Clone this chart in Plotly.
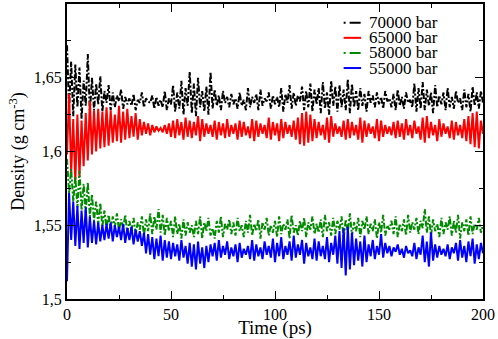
import plotly.graph_objects as go

# time axis, 1 ps sampling
time_ps = list(range(0, 201))

density_70000 = [
    1.672, 1.628, 1.661, 1.624, 1.659, 1.630, 1.657, 1.622, 1.648, 1.631,
    1.666, 1.626, 1.650, 1.628, 1.646, 1.632, 1.651, 1.627, 1.641, 1.633,
    1.645, 1.628, 1.640, 1.630, 1.638, 1.634, 1.642, 1.629, 1.637, 1.632,
    1.636, 1.631, 1.639, 1.628, 1.635, 1.633, 1.640, 1.630, 1.636, 1.634,
    1.633, 1.638, 1.629, 1.637, 1.631, 1.635, 1.630, 1.641, 1.628, 1.636,
    1.632, 1.645, 1.627, 1.640, 1.629, 1.648, 1.625, 1.643, 1.631, 1.654,
    1.626, 1.646, 1.624, 1.650, 1.630, 1.641, 1.627, 1.644, 1.625, 1.654,
    1.629, 1.642, 1.631, 1.638, 1.628, 1.641, 1.633, 1.637, 1.630, 1.639,
    1.632, 1.636, 1.629, 1.640, 1.631, 1.635, 1.628, 1.643, 1.630, 1.637,
    1.633, 1.639, 1.628, 1.642, 1.631, 1.636, 1.634, 1.640, 1.629, 1.638,
    1.632, 1.637, 1.630, 1.643, 1.627, 1.639, 1.633, 1.645, 1.629, 1.640,
    1.631, 1.638, 1.634, 1.644, 1.628, 1.641, 1.630, 1.646, 1.627, 1.642,
    1.632, 1.643, 1.626, 1.647, 1.629, 1.640, 1.625, 1.648, 1.631, 1.644,
    1.627, 1.645, 1.630, 1.642, 1.628, 1.649, 1.626, 1.646, 1.630, 1.641,
    1.628, 1.643, 1.631, 1.639, 1.627, 1.641, 1.633, 1.638, 1.630, 1.640,
    1.632, 1.637, 1.629, 1.641, 1.634, 1.636, 1.630, 1.639, 1.628, 1.642,
    1.631, 1.637, 1.629, 1.640, 1.633, 1.635, 1.630, 1.646, 1.627, 1.643,
    1.629, 1.647, 1.628, 1.642, 1.631, 1.640, 1.626, 1.645, 1.630, 1.638,
    1.632, 1.640, 1.628, 1.643, 1.630, 1.637, 1.629, 1.641, 1.633, 1.636,
    1.628, 1.642, 1.630, 1.639, 1.627, 1.644, 1.631, 1.640, 1.629, 1.641,
    1.633,
]

density_65000 = [
    1.598, 1.639, 1.585, 1.622, 1.579, 1.625, 1.583, 1.621, 1.590, 1.626,
    1.594, 1.634, 1.598, 1.628, 1.600, 1.629, 1.602, 1.627, 1.603, 1.630,
    1.604, 1.628, 1.606, 1.625, 1.607, 1.631, 1.606, 1.627, 1.608, 1.629,
    1.609, 1.624, 1.610, 1.626, 1.608, 1.622, 1.611, 1.620, 1.612, 1.619,
    1.611, 1.618, 1.613, 1.617, 1.614, 1.616, 1.613, 1.618, 1.612, 1.619,
    1.610, 1.621, 1.609, 1.622, 1.611, 1.620, 1.608, 1.623, 1.610, 1.621,
    1.609, 1.620, 1.611, 1.624, 1.607, 1.622, 1.610, 1.619, 1.612, 1.618,
    1.610, 1.621, 1.608, 1.620, 1.611, 1.619, 1.609, 1.622, 1.610, 1.618,
    1.612, 1.619, 1.608, 1.621, 1.610, 1.620, 1.611, 1.617, 1.609, 1.622,
    1.607, 1.621, 1.610, 1.619, 1.612, 1.618, 1.609, 1.623, 1.608, 1.620,
    1.611, 1.619, 1.607, 1.622, 1.609, 1.620, 1.612, 1.618, 1.610, 1.621,
    1.608, 1.623, 1.605, 1.626, 1.604, 1.627, 1.606, 1.625, 1.607, 1.622,
    1.609, 1.620, 1.611, 1.618, 1.608, 1.623, 1.606, 1.624, 1.610, 1.619,
    1.612, 1.617, 1.610, 1.621, 1.608, 1.622, 1.609, 1.620, 1.611, 1.618,
    1.608, 1.623, 1.606, 1.621, 1.610, 1.619, 1.612, 1.617, 1.609, 1.622,
    1.607, 1.621, 1.610, 1.618, 1.612, 1.617, 1.611, 1.620, 1.609, 1.621,
    1.610, 1.619, 1.608, 1.622, 1.611, 1.618, 1.609, 1.621, 1.612, 1.617,
    1.608, 1.623, 1.606, 1.624, 1.609, 1.620, 1.611, 1.618, 1.607, 1.622,
    1.610, 1.619, 1.612, 1.617, 1.609, 1.621, 1.608, 1.620, 1.611, 1.618,
    1.609, 1.622, 1.607, 1.624, 1.605, 1.626, 1.603, 1.627, 1.602, 1.621,
    1.612,
]

density_58000 = [
    1.595, 1.572, 1.588, 1.566, 1.583, 1.562, 1.587, 1.560, 1.578, 1.558,
    1.579, 1.556, 1.571, 1.553, 1.566, 1.551, 1.565, 1.549, 1.560, 1.548,
    1.557, 1.547, 1.556, 1.549, 1.558, 1.546, 1.554, 1.548, 1.557, 1.545,
    1.553, 1.546, 1.555, 1.544, 1.552, 1.547, 1.556, 1.543, 1.554, 1.546,
    1.558, 1.544, 1.556, 1.547, 1.561, 1.545, 1.557, 1.543, 1.555, 1.546,
    1.553, 1.542, 1.556, 1.544, 1.551, 1.541, 1.554, 1.543, 1.552, 1.545,
    1.550, 1.542, 1.553, 1.544, 1.556, 1.541, 1.552, 1.546, 1.555, 1.543,
    1.548, 1.541, 1.553, 1.545, 1.556, 1.542, 1.551, 1.547, 1.554, 1.544,
    1.552, 1.543, 1.555, 1.546, 1.550, 1.542, 1.553, 1.545, 1.557, 1.543,
    1.551, 1.546, 1.554, 1.541, 1.552, 1.547, 1.555, 1.543, 1.550, 1.545,
    1.553, 1.542, 1.556, 1.544, 1.551, 1.547, 1.554, 1.541, 1.557, 1.545,
    1.550, 1.543, 1.553, 1.546, 1.555, 1.542, 1.552, 1.547, 1.556, 1.544,
    1.551, 1.545, 1.554, 1.542, 1.557, 1.546, 1.552, 1.543, 1.555, 1.544,
    1.553, 1.547, 1.556, 1.541, 1.554, 1.545, 1.558, 1.543, 1.552, 1.546,
    1.555, 1.542, 1.553, 1.547, 1.556, 1.544, 1.551, 1.546, 1.554, 1.541,
    1.552, 1.545, 1.557, 1.543, 1.550, 1.547, 1.553, 1.544, 1.556, 1.542,
    1.551, 1.546, 1.554, 1.543, 1.557, 1.545, 1.552, 1.547, 1.555, 1.544,
    1.553, 1.548, 1.561, 1.545, 1.556, 1.543, 1.554, 1.546, 1.551, 1.542,
    1.555, 1.544, 1.552, 1.547, 1.556, 1.543, 1.553, 1.545, 1.557, 1.541,
    1.552, 1.546, 1.554, 1.543, 1.556, 1.544, 1.551, 1.547, 1.555, 1.545,
    1.550,
]

density_55000 = [
    1.512, 1.572, 1.540, 1.566, 1.536, 1.563, 1.534, 1.560, 1.538, 1.562,
    1.535, 1.556, 1.538, 1.553, 1.537, 1.552, 1.539, 1.550, 1.540, 1.551,
    1.541, 1.552, 1.539, 1.550, 1.542, 1.549, 1.540, 1.551, 1.538, 1.548,
    1.540, 1.549, 1.537, 1.547, 1.539, 1.546, 1.536, 1.545, 1.531, 1.544,
    1.530, 1.542, 1.527, 1.541, 1.529, 1.543, 1.526, 1.540, 1.528, 1.539,
    1.527, 1.538, 1.529, 1.537, 1.526, 1.540, 1.528, 1.536, 1.524, 1.538,
    1.522, 1.537, 1.520, 1.539, 1.524, 1.535, 1.521, 1.536, 1.525, 1.537,
    1.529, 1.538, 1.526, 1.540, 1.528, 1.536, 1.530, 1.539, 1.527, 1.535,
    1.529, 1.537, 1.525, 1.538, 1.528, 1.534, 1.530, 1.536, 1.527, 1.540,
    1.526, 1.537, 1.529, 1.535, 1.527, 1.539, 1.530, 1.536, 1.528, 1.541,
    1.525, 1.538, 1.529, 1.542, 1.527, 1.536, 1.530, 1.539, 1.526, 1.543,
    1.528, 1.537, 1.530, 1.540, 1.524, 1.538, 1.529, 1.535, 1.527, 1.541,
    1.526, 1.539, 1.529, 1.536, 1.527, 1.542, 1.525, 1.538, 1.530, 1.543,
    1.524, 1.546, 1.521, 1.548, 1.516, 1.549, 1.520, 1.545, 1.523, 1.541,
    1.526, 1.539, 1.522, 1.543, 1.525, 1.537, 1.529, 1.540, 1.527, 1.536,
    1.530, 1.544, 1.528, 1.538, 1.531, 1.536, 1.529, 1.535, 1.532, 1.537,
    1.530, 1.534, 1.528, 1.536, 1.531, 1.533, 1.529, 1.538, 1.527, 1.535,
    1.530, 1.543, 1.525, 1.539, 1.522, 1.545, 1.526, 1.537, 1.528, 1.536,
    1.530, 1.534, 1.529, 1.537, 1.527, 1.535, 1.531, 1.538, 1.526, 1.540,
    1.528, 1.536, 1.525, 1.539, 1.529, 1.541, 1.524, 1.537, 1.527, 1.538,
    1.531,
]

series = [
    ("70000 bar", density_70000, "black", "6px,2px,2px,2px"),
    ("65000 bar", density_65000, "red", "solid"),
    ("58000 bar", density_58000, "#008b00", "6px,2px,2px,2px"),
    ("55000 bar", density_55000, "blue", "solid"),
]

FONT = "Liberation Serif, Times New Roman, serif"

fig = go.Figure()
for name, values, color, dash in series:
    fig.add_trace(
        go.Scatter(
            x=time_ps,
            y=values,
            name=name,
            mode="lines",
            line=dict(color=color, width=2, dash=dash),
        )
    )

# compact legend drawn by hand (plotly's own legend rows are too tall here)
PLOT_H = 299
row_step = 15.3 / PLOT_H
legend_top = 1 - 19 / PLOT_H
for i, (name, _, color, dash) in enumerate(series):
    y = legend_top - i * row_step
    swatch_dash = "2px,4px,11px,4px" if dash != "solid" else "solid"
    fig.add_shape(
        type="line", xref="paper", yref="paper",
        x0=0.665, x1=0.707, y0=y, y1=y,
        line=dict(color=color, width=2, dash=swatch_dash),
    )
    fig.add_annotation(
        text=name, xref="paper", yref="paper", x=0.722, y=y,
        xanchor="left", yanchor="middle", showarrow=False,
        font=dict(family=FONT, size=17, color="black"),
    )

axis_common = dict(
    showline=True,
    linecolor="black",
    linewidth=2,
    mirror="ticks",
    ticks="inside",
    ticklen=8,
    tickwidth=1,
    tickcolor="black",
    showgrid=False,
    zeroline=False,
    tickfont=dict(family=FONT, size=16, color="black"),
)

fig.update_xaxes(
    **axis_common,
    range=[0, 200],
    tickvals=[0, 50, 100, 150, 200],
    minor=dict(ticks="inside", ticklen=4, tickvals=[25, 75, 125, 175], tickcolor="black"),
    title=dict(text="Time (ps)", font=dict(family=FONT, size=19, color="black"), standoff=0),
)
fig.update_yaxes(
    **axis_common,
    range=[1.5, 1.7],
    tickvals=[1.5, 1.55, 1.6, 1.65],
    minor=dict(ticks="inside", ticklen=4, tickvals=[1.525, 1.575, 1.625, 1.675], tickcolor="black"),
    title=dict(text="Density (g cm<sup>-3</sup>)", font=dict(family=FONT, size=18, color="black"), standoff=4),
)

fig.update_layout(
    width=498,
    height=339,
    margin=dict(l=67, r=15, t=2, b=38),
    paper_bgcolor="white",
    plot_bgcolor="white",
    separators=",.",
    showlegend=False,
    hovermode=False,
)

# drop the default page margin so the figure sits at the window's corner
fig.write_html(
    "out.html",
    config={"staticPlot": True},
    post_script="document.body.style.margin = '0';",
)
